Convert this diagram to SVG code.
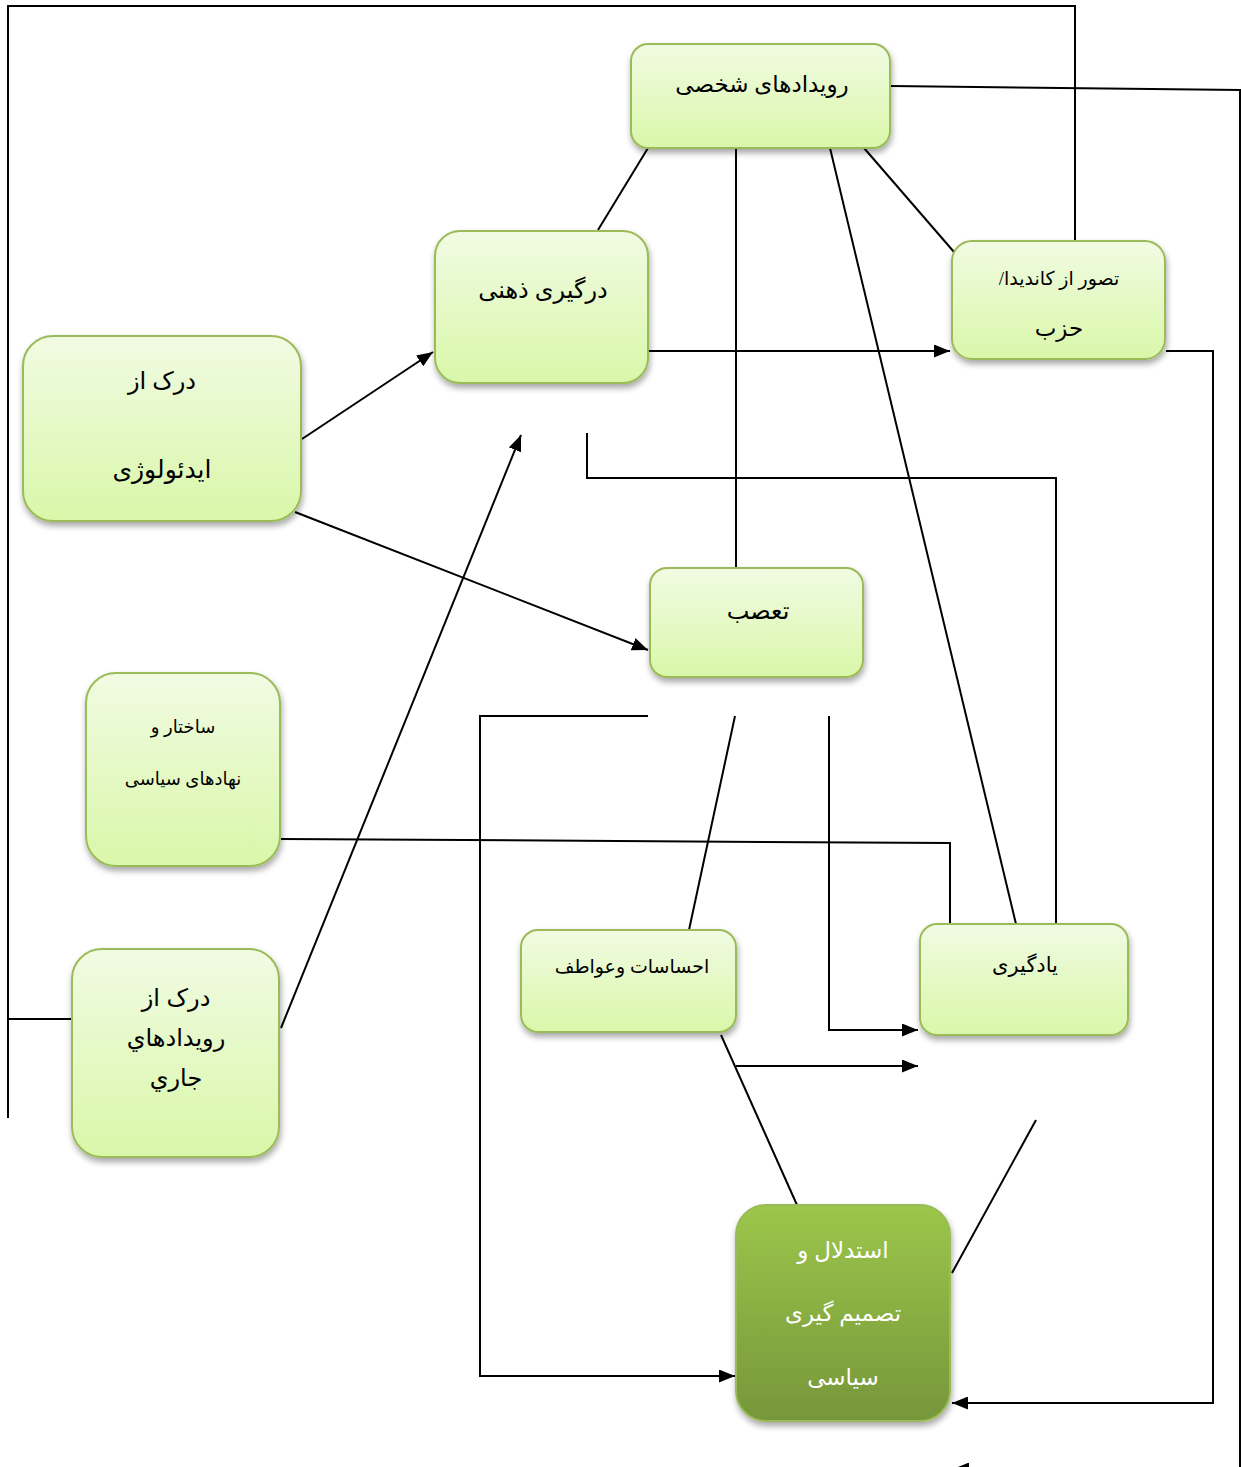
<svg xmlns="http://www.w3.org/2000/svg" width="1241" height="1467" viewBox="0 0 1241 1467">
<defs>
<linearGradient id="gl" x1="0" y1="0" x2="0" y2="1">
<stop offset="0" stop-color="#f1fbe3"/>
<stop offset="1" stop-color="#d9f7a9"/>
</linearGradient>
<linearGradient id="gd" x1="0" y1="0" x2="0" y2="1">
<stop offset="0" stop-color="#9cc64b"/>
<stop offset="1" stop-color="#76963a"/>
</linearGradient>
<filter id="sh" x="-10%" y="-10%" width="130%" height="130%">
<feGaussianBlur in="SourceAlpha" stdDeviation="3"/>
<feOffset dx="1" dy="4" result="b"/>
<feComponentTransfer><feFuncA type="linear" slope="0.35"/></feComponentTransfer>
<feMerge><feMergeNode/><feMergeNode in="SourceGraphic"/></feMerge>
</filter>
<marker id="ah" viewBox="0 0 16 13" refX="16" refY="6.5" markerWidth="16" markerHeight="13" markerUnits="userSpaceOnUse" orient="auto">
<path d="M0,0 L16,6.5 L0,13 z" fill="#000"/>
</marker>
</defs>
<style>
.box{fill:url(#gl);stroke:#9bbb59;stroke-width:2;filter:url(#sh)}
.dbox{fill:url(#gd);stroke:#9bbb59;stroke-width:2;filter:url(#sh)}
.t{font-family:"Liberation Serif","DejaVu Sans",serif;fill:#000;text-anchor:middle;direction:rtl}
.ts{font-family:"Liberation Sans","DejaVu Sans",sans-serif;fill:#000;text-anchor:middle;direction:rtl}
.tw{font-family:"Liberation Serif","DejaVu Sans",serif;fill:#fff;text-anchor:middle;direction:rtl}
.c{fill:none;stroke:#000;stroke-width:2}
.a{marker-end:url(#ah)}
</style>
<g id="connectors">
<polyline class="c" points="1075,241 1075,6 8,6 8,1118"/>
<line class="c" x1="8" y1="1019" x2="72" y2="1019"/>
<polyline class="c" points="891,86 1240,90 1240,1467"/>
<line class="c a" x1="1240" y1="1469" x2="953" y2="1469"/>
<line class="c" x1="648" y1="148" x2="598" y2="230"/>
<line class="c" x1="736" y1="148" x2="736" y2="568"/>
<line class="c" x1="830" y1="148" x2="1016" y2="924"/>
<line class="c" x1="864" y1="148" x2="954" y2="252"/>
<line class="c a" x1="649" y1="351" x2="950" y2="351"/>
<line class="c a" x1="302" y1="439" x2="433" y2="352"/>
<line class="c a" x1="295" y1="512" x2="648" y2="650"/>
<line class="c a" x1="281" y1="1028" x2="521" y2="435"/>
<polyline class="c" points="587,433 587,478 1056,478 1056,924"/>
<polyline class="c" points="281,839 950,843 950,924"/>
<polyline class="c a" points="1166,351 1213,351 1213,1403 952,1403"/>
<polyline class="c a" points="648,716 480,716 480,1376 735,1376"/>
<line class="c" x1="735" y1="716" x2="689" y2="930"/>
<polyline class="c a" points="829,716 829,1030 918,1030"/>
<line class="c a" x1="736" y1="1066" x2="918" y2="1066"/>
<line class="c" x1="721" y1="1035" x2="797" y2="1205"/>
<line class="c" x1="1036" y1="1120" x2="952" y2="1273"/>
</g>
<g id="n1"><rect class="box" x="631" y="44" width="259" height="104" rx="17"/><text class="t" x="762" y="92" font-size="23">رویدادهای شخصی</text></g>
<g id="n2"><rect class="box" x="435" y="231" width="213" height="152" rx="25"/><text class="t" x="543" y="298" font-size="24">درگیری ذهنی</text></g>
<g id="n3"><rect class="box" x="952" y="241" width="213" height="118" rx="20"/><text class="t" x="1059" y="285" font-size="19">تصور از کاندیدا/</text><text class="t" x="1059" y="336" font-size="23">حزب</text></g>
<g id="n4"><rect class="box" x="23" y="336" width="278" height="185" rx="30"/><text class="t" x="162" y="389" font-size="24">درک از</text><text class="t" x="162" y="478" font-size="25">ایدئولوژی</text></g>
<g id="n5"><rect class="box" x="86" y="673" width="194" height="193" rx="30"/><text class="t" x="183" y="733" font-size="18">ساختار و</text><text class="t" x="183" y="785" font-size="18">نهادهای سیاسی</text></g>
<g id="n6"><rect class="box" x="72" y="949" width="207" height="208" rx="30"/><text class="ts" x="176" y="1006" font-size="24">درک از</text><text class="ts" x="176" y="1046" font-size="24">رويدادهاي</text><text class="ts" x="176" y="1086" font-size="24">جاري</text></g>
<g id="n7"><rect class="box" x="650" y="568" width="213" height="109" rx="17"/><text class="t" x="758" y="619" font-size="24">تعصب</text></g>
<g id="n8"><rect class="box" x="521" y="930" width="215" height="102" rx="17"/><text class="t" x="632" y="973" font-size="19">احساسات وعواطف</text></g>
<g id="n9"><rect class="box" x="920" y="924" width="208" height="111" rx="17"/><text class="t" x="1025" y="972" font-size="21">یادگیری</text></g>
<g id="n10"><rect class="dbox" x="736" y="1205" width="214" height="216" rx="30"/><text class="tw" x="843" y="1258" font-size="23">استدلال و</text><text class="tw" x="843" y="1321" font-size="23">تصمیم گیری</text><text class="tw" x="843" y="1385" font-size="23">سیاسی</text></g>
</svg>
